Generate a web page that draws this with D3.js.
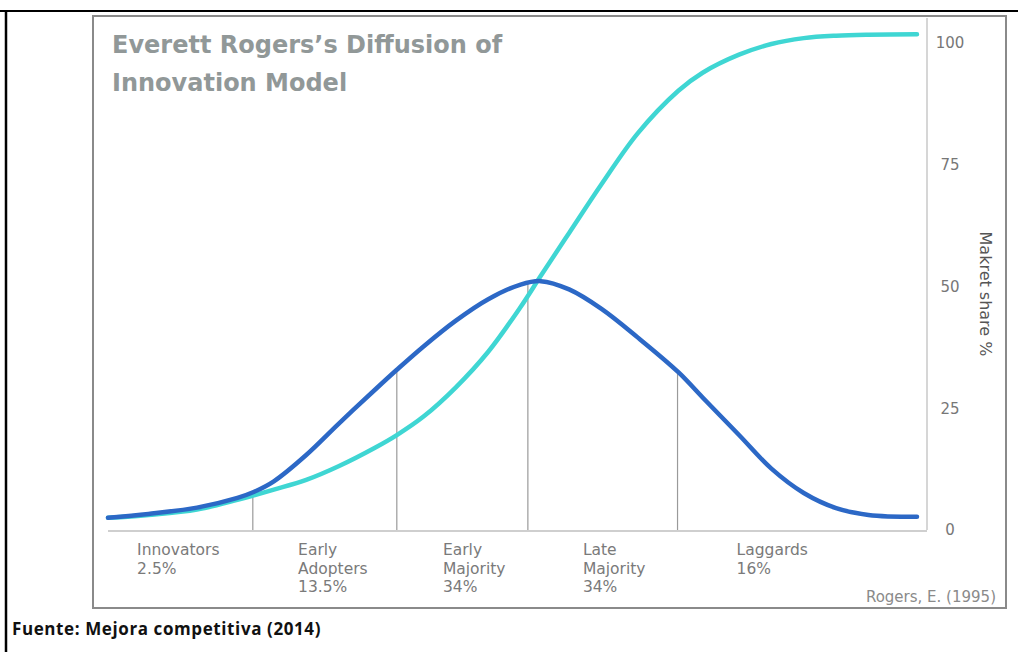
<!DOCTYPE html>
<html>
<head>
<meta charset="utf-8">
<script src="https://cdn.jsdelivr.net/npm/d3@7"></script>
<style>
    body { margin: 0; background: #fff; }
    svg text { font-family: "DejaVu Sans", sans-serif; }
</style>
</head>
<body>
<svg id="chart" width="1018" height="652"></svg>
<script>
// time axis, percent of the adoption period
var timeSteps = [0, 5, 11, 16, 18, 20.5, 24.5, 28.5, 33, 35.7, 39, 43, 47, 51, 53.5,
    57, 61, 65.5, 70.5, 73.5, 78, 82, 86, 90, 94, 100];

// bell curve: new adopters
var adopters = [2.5, 3.3, 4.6, 6.6, 7.8, 10.0, 15.4, 21.8, 28.8, 32.9, 37.7, 43.0, 47.4, 50.4, 51.1,
    49.4, 45.4, 39.5, 32.4, 27.2, 19.5, 12.6, 7.6, 4.5, 3.1, 2.7];

// s curve: cumulative market share
var marketShare = [2.5, 3.1, 4.2, 6.2, 7.1, 8.3, 10.3, 13.1, 16.9, 19.5, 23.3, 29.3, 36.6, 45.8, 52.2,
    61.0, 71.0, 81.5, 90.2, 93.9, 97.6, 99.8, 101.0, 101.5, 101.7, 101.8];

// adopter categories
var categories = [
    ['Innovators', '2.5%'],
    ['Early', 'Adopters', '13.5%'],
    ['Early', 'Majority', '34%'],
    ['Late', 'Majority', '34%'],
    ['Laggards', '16%']
];
var labelAt = [3.6, 23.5, 41.4, 58.7, 77.7];
var dividerAt = [17.9, 35.7, 51.9, 70.4];
var dividerTop = [7.6, 33.0, 50.8, 32.5];

var yTicks = [0, 25, 50, 75, 100];

var svg = d3.select('#chart');

// page frame: black rule on top and left
svg.append('line').attr('x1', 0).attr('x2', 1018).attr('y1', 11).attr('y2', 11)
    .attr('stroke', '#000').attr('stroke-width', 2);
svg.append('line').attr('x1', 6).attr('x2', 6).attr('y1', 10).attr('y2', 652)
    .attr('stroke', '#000').attr('stroke-width', 2.5);

// picture box
svg.append('rect').attr('x', 93).attr('y', 16).attr('width', 913).attr('height', 592)
    .attr('fill', '#fff').attr('stroke', '#8a8a8a').attr('stroke-width', 2);

var plot = { left: 108, right: 927, top: 18, bottom: 530 };

var x = d3.scaleLinear().domain([0, 100]).range([plot.left, 917]);
var y = d3.scaleLinear().domain([0, 100]).range([plot.bottom, 43]);

// plot frame, right side and baseline
svg.append('line').attr('x1', plot.right).attr('x2', plot.right)
    .attr('y1', plot.top).attr('y2', plot.bottom)
    .attr('stroke', '#c8c8c8').attr('stroke-width', 1.5);
svg.append('line').attr('x1', plot.left).attr('x2', plot.right)
    .attr('y1', plot.bottom + 1).attr('y2', plot.bottom + 1)
    .attr('stroke', '#cfcfcf').attr('stroke-width', 2);

// category dividers from baseline to bell
svg.selectAll('.divider')
    .data(dividerAt).enter().append('line')
    .attr('class', 'divider')
    .attr('x1', (d) => { return x(d); })
    .attr('x2', (d) => { return x(d); })
    .attr('y1', plot.bottom)
    .attr('y2', (d, i) => { return y(dividerTop[i]); })
    .attr('stroke', '#9a9a9a').attr('stroke-width', 1.2);

var line = (values) => {
    return d3.line()
        .x((d, i) => { return x(timeSteps[i]); })
        .y((d) => { return y(d); })
        .curve(d3.curveCatmullRom.alpha(0.5))(values);
};

// s curve then bell
svg.append('path').attr('d', line(marketShare))
    .attr('fill', 'none').attr('stroke', '#3fd6d3').attr('stroke-width', 4.5)
    .attr('stroke-linecap', 'round');
svg.append('path').attr('d', line(adopters))
    .attr('fill', 'none').attr('stroke', '#2c68c6').attr('stroke-width', 4.5)
    .attr('stroke-linecap', 'round');

// right axis
var axis = svg.append('g')
    .attr('transform', 'translate(' + plot.right + ',0)')
    .call(d3.axisRight(y).tickValues(yTicks).tickSize(0).tickPadding(23));
axis.select('.domain').remove();
axis.selectAll('text')
    .attr('text-anchor', 'middle')
    .attr('font-size', 15)
    .attr('fill', '#777');

svg.append('text')
    .attr('transform', 'translate(980,294) rotate(90)')
    .attr('text-anchor', 'middle')
    .attr('font-size', 16)
    .attr('fill', '#555')
    .text('Makret share %');

// category labels below the baseline
var labels = svg.selectAll('.category')
    .data(categories).enter().append('text')
    .attr('class', 'category')
    .attr('x', (d, i) => { return x(labelAt[i]); })
    .attr('y', 555)
    .attr('font-size', 15.5)
    .attr('fill', '#7a7a7a');
labels.selectAll('tspan')
    .data((d) => { return d; }).enter().append('tspan')
    .attr('x', function () { return d3.select(this.parentNode).attr('x'); })
    .attr('dy', (d, i) => { return i ? 18.5 : 0; })
    .text((d) => { return d; });

// title
svg.append('text')
    .attr('x', 112).attr('y', 53)
    .attr('font-size', 24).attr('font-weight', 'bold')
    .attr('fill', '#919898')
    .text('Everett Rogers\u2019s Diffusion of');
svg.append('text')
    .attr('x', 112).attr('y', 91)
    .attr('font-size', 24).attr('font-weight', 'bold')
    .attr('fill', '#919898')
    .text('Innovation Model');

svg.append('text')
    .attr('x', 996).attr('y', 602)
    .attr('text-anchor', 'end')
    .attr('font-size', 15)
    .attr('fill', '#8a8a8a')
    .text('Rogers, E. (1995)');

// source line under the picture
svg.append('text')
    .attr('x', 12).attr('y', 635)
    .style('font-family', '"Open Sans", sans-serif')
    .style('letter-spacing', '0.6px')
    .attr('font-size', 17).attr('font-weight', 'bold')
    .attr('fill', '#111')
    .text('Fuente: Mejora competitiva (2014)');
</script>
</body>
</html>
